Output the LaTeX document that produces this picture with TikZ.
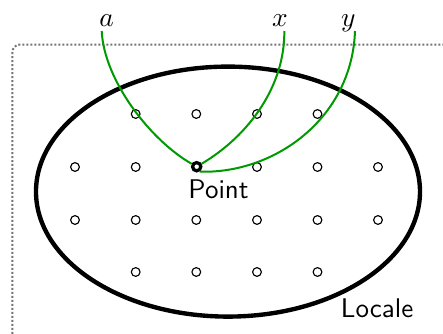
\documentclass[tikz,border=0pt]{standalone}
\begin{document}
\begin{tikzpicture}[x=0.4pt,y=-0.4pt,
  dot/.style={circle,draw,line width=0.45pt,minimum size=3.5pt,inner sep=0pt},
  ptdot/.style={circle,draw,line width=1.3pt,minimum size=3.3pt,inner sep=0pt},
  curve/.style={draw=green!60!black,line width=0.8pt},
  lbl/.style={font=\fontsize{10.8}{13}\selectfont, inner sep=0pt},
  frame/.style={draw=black!55,line width=0.8pt,dash pattern=on 0.8pt off 0.8pt,rounded corners=3pt}]
\useasboundingbox (0,0) rectangle (443,334);
\begin{scope}
\clip (0,0) rectangle (443,334);
\draw[frame] (12.5,450) |- (520,44.5);
\draw[line width=1.75pt] (228,191.6) ellipse [x radius=76.8pt, y radius=50pt];
% grid dots
\foreach \x/\y/\n in {135.7/114/a2,196.3/114/a3,257/114/a4,317.5/114/a5,
  75/167/b1,135.7/167/b2,257/167/b4,317.5/167/b5,378/167/b6,
  75/220/c1,135.7/220/c2,196.3/220/c3,257/220/c4,317.5/220/c5,378/220/c6,
  135.7/272/d2,196.3/272/d3,257/272/d4,317.5/272/d5}
  \node[dot] (\n) at (\x,\y) {};
\node[ptdot] (P) at (196.7,166.7) {};
\node[lbl, anchor=base west, font=\sffamily\fontsize{10.8}{13}\selectfont] (ptext) at (188,198.3) {Point};
\node[lbl, anchor=base west, font=\sffamily\fontsize{10.8}{13}\selectfont] (ltext) at (340.5,317.3) {Locale};
\node[lbl, anchor=base] (la) at (106.5,26.7) {$a$};
\node[lbl, anchor=base] (lx) at (280,26.7) {$x$};
\node[lbl, anchor=base] (ly) at (348.3,26.7) {$y$};
\coordinate (ta) at (101.7,31);
\coordinate (tx) at (284.3,31);
\coordinate (ty) at (355,31);
\draw[curve] (ta) .. controls (104,80) and (150,140) .. (P);
\draw[curve] (tx) .. controls (285,85) and (250,135) .. (P);
\draw[curve] (ty) .. controls (352,118) and (275,174) .. (P.-60);
\end{scope}
\end{tikzpicture}
\end{document}
